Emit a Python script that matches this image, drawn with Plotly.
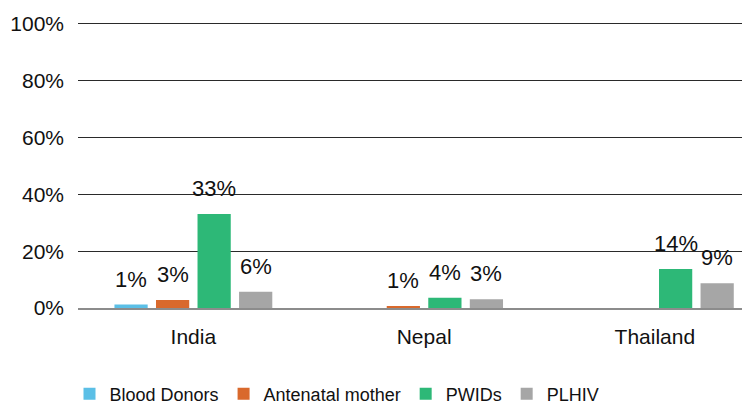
import plotly.graph_objects as go

categories = ["India", "Nepal", "Thailand"]
series_names = ["Blood Donors", "Antenatal mother", "PWIDs", "PLHIV"]
blood_donors = [0.012, None, None]
antenatal_mother = [0.028, 0.006, None]
pwids = [0.331, 0.036, 0.137]
plhiv = [0.057, 0.031, 0.087]
y_ticks = [0, 0.2, 0.4, 0.6, 0.8, 1.0]

series_values = [blood_donors, antenatal_mother, pwids, plhiv]
colors = ["#5BBFE6", "#D9692C", "#2DB877", "#A6A6A6"]

FONT = "Liberation Sans, Arial, sans-serif"
bargap = 0.28
slot = (1 - bargap) / len(series_names)

fig = go.Figure()
for name, vals, col in zip(series_names, series_values, colors):
    fig.add_trace(go.Bar(x=categories, y=vals, name=name, marker_color=col,
                         marker_line_width=0))

annotations = []
for i, vals in enumerate(series_values):
    for j, v in enumerate(vals):
        if v is None:
            continue
        annotations.append(dict(
            x=j + (i - 1.5) * slot, y=v, xref="x", yref="y",
            text=f"{round(v * 100)}%", showarrow=False,
            yanchor="bottom", xanchor="center", yshift=11,
            font=dict(family=FONT, size=22, color="#111111")))

fig.update_layout(
    width=750, height=405,
    margin=dict(l=70, r=0, t=13, b=105, autoexpand=False),
    paper_bgcolor="white", plot_bgcolor="white",
    barmode="group", bargap=bargap, bargroupgap=0.2,
    font=dict(family=FONT, size=20, color="#111111"),
    annotations=annotations,
    showlegend=True,
    legend=dict(orientation="h", xref="container", x=0.082, xanchor="left",
                yref="container", y=0.047, yanchor="middle",
                font=dict(family=FONT, size=18, color="#111111"),
                itemwidth=30, traceorder="normal"),
    xaxis=dict(range=[-0.5, 2.447], showgrid=False, showline=True,
               linecolor="#8C8C8C", linewidth=2, ticks="", automargin=False,
               ticklabelstandoff=9,
               tickfont=dict(family=FONT, size=21, color="#111111")),
    yaxis=dict(range=[0, 1.01], tickvals=y_ticks, tickformat=".0%",
               showgrid=True, gridcolor="#2A2A2A", gridwidth=1,
               zeroline=False, showline=False, ticks="", automargin=False,
               ticklabelstandoff=13,
               tickfont=dict(family=FONT, size=21, color="#111111")),
)

fig.write_html("out.html")
